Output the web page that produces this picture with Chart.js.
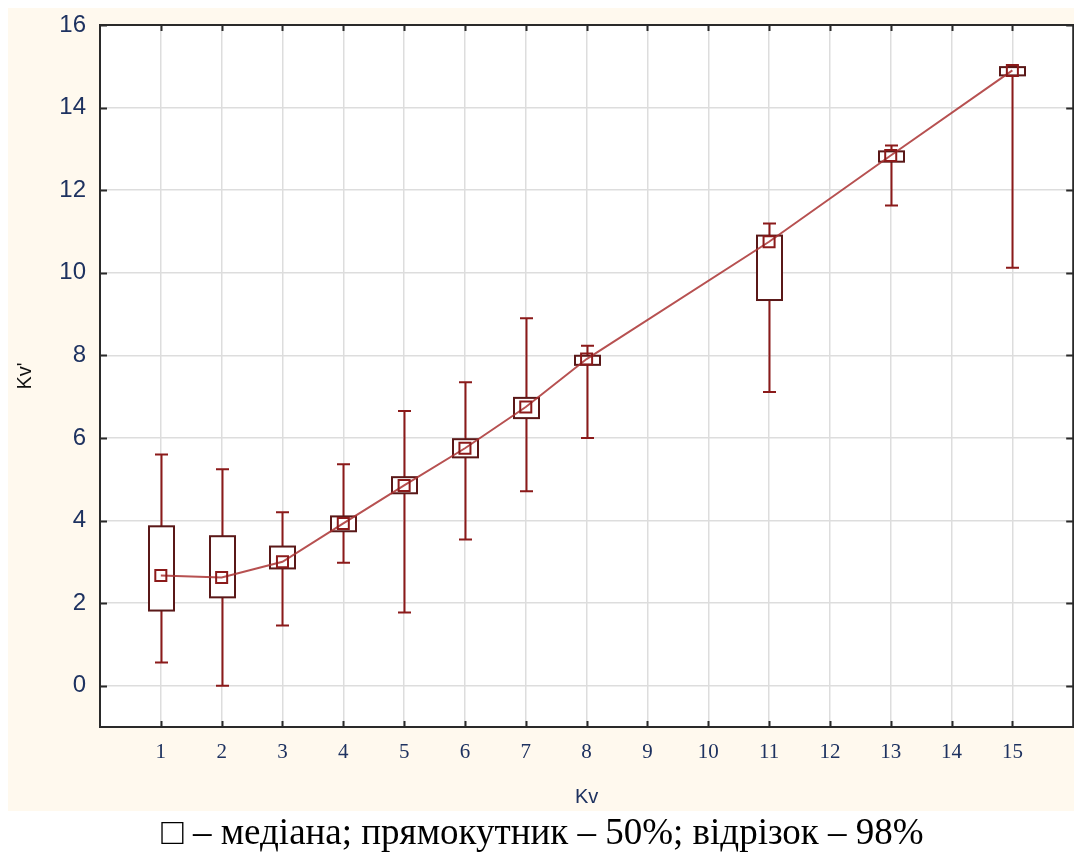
<!DOCTYPE html>
<html>
<head>
<meta charset="utf-8">
<script src="https://cdn.jsdelivr.net/npm/chart.js@4"></script>
<style>
  html, body { margin: 0; padding: 0; background: #ffffff; overflow: hidden; }
  #wrap { position: relative; width: 1074px; height: 852px; overflow: hidden; }
  #c { position: absolute; left: 0; top: 0; }
  #caption { position: absolute; left: 0; top: 812px; width: 1085px; text-align: center;
    font-family: "Liberation Serif", "Times New Roman", serif; font-size: 37px; color: #000; line-height: 40px; white-space: nowrap; }
</style>
</head>
<body>
<div id="wrap">
  <canvas id="c" width="1083" height="852"></canvas>
  <div id="caption">□ – медіана; прямокутник – 50%; відрізок – 98%</div>
</div>
<script>
// ---- data ----
const categories = [1, 2, 3, 4, 5, 6, 7, 8, 11, 13, 15];
const medians    = [2.67, 2.62, 3.00, 3.93, 4.85, 5.75, 6.75, 7.91, 10.75, 12.84, 14.90];
const boxLow     = [1.82, 2.14, 2.84, 3.74, 4.66, 5.53, 6.48, 7.77, 9.34, 12.69, 14.78];
const boxHigh    = [3.86, 3.62, 3.37, 4.10, 5.05, 5.97, 6.97, 7.99, 10.90, 12.94, 14.98];
const whiskLow   = [0.56, 0.00, 1.46, 2.98, 1.77, 3.54, 4.71, 6.00, 7.11, 11.63, 10.12];
const whiskHigh  = [5.60, 5.24, 4.20, 5.36, 6.65, 7.35, 8.90, 8.23, 11.19, 13.08, 15.00];
const xTicks = [1, 2, 3, 4, 5, 6, 7, 8, 9, 10, 11, 12, 13, 14, 15];
const yTicks = [0, 2, 4, 6, 8, 10, 12, 14, 16];
const xTitle = 'Kv';
const yTitle = "Kv'";

const tickColor = '#1e3260';

const bgPlugin = {
  id: 'bg',
  beforeDraw(chart) {
    const ctx = chart.ctx, a = chart.chartArea;
    ctx.save();
    ctx.fillStyle = '#fff9ee';
    ctx.fillRect(8, 8, 1080, 803);
    ctx.fillStyle = '#ffffff';
    ctx.fillRect(a.left, a.top, a.right - a.left, a.bottom - a.top);
    ctx.restore();
  }
};

const boxPlugin = {
  id: 'boxes',
  beforeDatasetsDraw(chart) {
    const ctx = chart.ctx;
    const xs = chart.scales.x, ys = chart.scales.y;
    ctx.save();
    categories.forEach((c, i) => {
      const px = Math.round(xs.getPixelForValue(c)) + 0.5;
      const wl = ys.getPixelForValue(whiskLow[i]);
      const wh = ys.getPixelForValue(whiskHigh[i]);
      ctx.strokeStyle = '#8b1a1a';
      ctx.lineWidth = 2;
      ctx.beginPath();
      ctx.moveTo(px, wl); ctx.lineTo(px, wh);
      ctx.moveTo(px - 6.5, wl); ctx.lineTo(px + 6.5, wl);
      ctx.moveTo(px - 6.5, wh); ctx.lineTo(px + 6.5, wh);
      ctx.stroke();
      const bl = ys.getPixelForValue(boxLow[i]);
      const bh = ys.getPixelForValue(boxHigh[i]);
      ctx.fillStyle = '#ffffff';
      ctx.fillRect(px - 12.5, bh, 25, bl - bh);
      ctx.strokeStyle = '#5a1818';
      ctx.strokeRect(px - 12.5, bh, 25, bl - bh);
    });
    ctx.restore();
  },
  afterDraw(chart) {
    const ctx = chart.ctx, a = chart.chartArea;
    const xs = chart.scales.x, ys = chart.scales.y;
    ctx.save();
    ctx.strokeStyle = '#2a2a2a';
    ctx.lineWidth = 2;
    ctx.strokeRect(a.left, a.top, a.right - a.left, a.bottom - a.top);
    ctx.beginPath();
    xTicks.forEach(v => {
      const px = Math.round(xs.getPixelForValue(v)) + 0.5;
      ctx.moveTo(px, a.bottom); ctx.lineTo(px, a.bottom - 6);
      ctx.moveTo(px, a.top); ctx.lineTo(px, a.top + 6);
    });
    yTicks.forEach(v => {
      const py = Math.round(ys.getPixelForValue(v)) + 0.5;
      ctx.moveTo(a.left, py); ctx.lineTo(a.left + 7, py);
      ctx.moveTo(a.right, py); ctx.lineTo(a.right - 7, py);
    });
    ctx.stroke();
    ctx.restore();
  }
};

new Chart(document.getElementById('c'), {
  type: 'line',
  data: {
    datasets: [{
      data: categories.map((c, i) => ({ x: c, y: medians[i] })),
      borderColor: 'rgba(170,50,50,0.85)',
      borderWidth: 2,
      pointStyle: 'rect',
      pointRadius: 7.8,
      pointBorderWidth: 2,
      pointBorderColor: '#8b1a1a',
      pointBackgroundColor: 'rgba(0,0,0,0)',
      tension: 0
    }]
  },
  plugins: [bgPlugin, boxPlugin],
  options: {
    responsive: false,
    animation: false,
    devicePixelRatio: 1,
    layout: { padding: { left: 0, top: 25, right: 1, bottom: 41 } },
    plugins: { legend: { display: false }, tooltip: { enabled: false } },
    scales: {
      x: {
        type: 'linear', min: 0, max: 16,
        afterBuildTicks(s) { s.ticks = xTicks.map(v => ({ value: v })); },
        afterFit(s) { s.height = 84; },
        grid: { color: '#dddddd', lineWidth: 1.5, drawTicks: false },
        border: { display: false },
        ticks: { color: tickColor, padding: 13, font: { family: 'Liberation Serif', size: 21 } },
        title: { display: true, text: xTitle, color: tickColor, font: { family: 'Liberation Sans', size: 20 }, padding: { top: 0, bottom: 2 } }
      },
      y: {
        type: 'linear', min: -1, max: 16,
        afterBuildTicks(s) { s.ticks = yTicks.map(v => ({ value: v })); },
        afterFit(s) { s.width = 100; s.paddingTop = 0; s.paddingBottom = 0; },
        grid: { color: '#dddddd', lineWidth: 1.5, drawTicks: false },
        border: { display: false },
        ticks: { color: tickColor, padding: 14, font: { family: 'Liberation Sans', size: 24 } },
        title: { display: true, text: yTitle, color: '#111111', font: { family: 'Liberation Sans', size: 20 }, padding: { top: 13, bottom: 0 } }
      }
    }
  }
});
</script>
</body>
</html>
